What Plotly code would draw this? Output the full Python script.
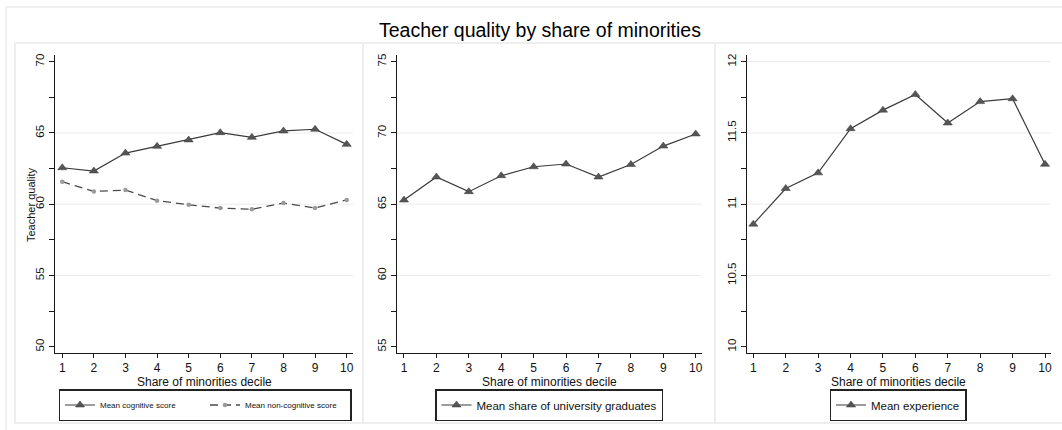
import plotly.graph_objects as go

# Share of minorities decile (x axis, shared by all panels)
deciles = [1, 2, 3, 4, 5, 6, 7, 8, 9, 10]

# Panel 1: teacher test scores
cognitive = [62.56, 62.33, 63.59, 64.06, 64.51, 65.02, 64.69, 65.14, 65.26, 64.20]
non_cognitive = [61.58, 60.90, 60.99, 60.25, 59.96, 59.73, 59.64, 60.08, 59.73, 60.30]

# Panel 2: share of university graduates
university_share = [65.29, 66.91, 65.88, 67.00, 67.63, 67.82, 66.91, 67.79, 69.08, 69.93]

# Panel 3: years of experience
experience = [10.86, 11.11, 11.22, 11.53, 11.66, 11.77, 11.57, 11.72, 11.74, 11.28]

# Tick values and gridline positions for each panel
y1_ticks = [50, 55, 60, 65, 70]
y2_ticks = [55, 60, 65, 70, 75]
y3_ticks = [10, 10.5, 11, 11.5, 12]
y3_ticklabels = ["10", "10.5", "11", "11.5", "12"]
y1_grid = [55, 60, 65]
y2_grid = [60, 65, 70]
y3_grid = [10.5, 11, 11.5, 12]

TITLE = "Teacher quality by share of minorities"
XTITLE = "Share of minorities decile"
YTITLE = "Teacher quality"

W, H = 1062, 430
FONT = "Liberation Sans, Arial, sans-serif"
AXIS_COLOR = "#1a1a1a"
LINE_COLOR = "#3a3a3a"
MARK_COLOR = "#555555"
GRID_COLOR = "#ececec"
BOX_COLOR = "#eeeeee"


def fx(p):
    return p / W


def fy(p):
    return 1 - p / H


# Plot areas in pixels: (left, right) and (top, bottom)
panels = [
    dict(x=(55, 353), y=(55, 353), xr=[0.77, 10.2], yr=[49.56, 70.47],
         ticks=y1_ticks, labels=[str(t) for t in y1_ticks], grid=y1_grid),
    dict(x=(396.7, 701.7), y=(55, 353), xr=[0.775, 10.185], yr=[54.56, 75.47],
         ticks=y2_ticks, labels=[str(t) for t in y2_ticks], grid=y2_grid),
    dict(x=(746.7, 1050.7), y=(55, 353), xr=[0.796, 10.176], yr=[9.956, 12.047],
         ticks=y3_ticks, labels=y3_ticklabels, grid=y3_grid),
]
minor_step = [2.5, 2.5, 0.25]

fig = go.Figure()

tri_marker = dict(symbol="triangle-up", size=8, color=MARK_COLOR,
                  line=dict(width=0.5, color=LINE_COLOR))

fig.add_trace(go.Scatter(
    x=deciles, y=cognitive, mode="lines+markers", name="Mean cognitive score",
    line=dict(color=LINE_COLOR, width=1.2), marker=tri_marker,
    xaxis="x", yaxis="y", legend="legend"))
fig.add_trace(go.Scatter(
    x=deciles, y=non_cognitive, mode="lines+markers", name="Mean non-cognitive score",
    line=dict(color="#4a4a4a", width=1.3, dash="8px,5px"),
    marker=dict(symbol="circle", size=4.5, color="#9a9a9a"),
    xaxis="x", yaxis="y", legend="legend"))
fig.add_trace(go.Scatter(
    x=deciles, y=university_share, mode="lines+markers",
    name="Mean share of university graduates",
    line=dict(color=LINE_COLOR, width=1.2), marker=tri_marker,
    xaxis="x2", yaxis="y2", legend="legend2"))
fig.add_trace(go.Scatter(
    x=deciles, y=experience, mode="lines+markers", name="Mean experience",
    line=dict(color=LINE_COLOR, width=1.2), marker=tri_marker,
    xaxis="x3", yaxis="y3", legend="legend3"))

layout = dict(
    width=W, height=H,
    margin=dict(l=0, r=0, t=0, b=0),
    paper_bgcolor="white", plot_bgcolor="white",
    font=dict(family=FONT, color="#111111"),
    showlegend=True,
)

shapes = []
annotations = []

for i, p in enumerate(panels):
    sfx = "" if i == 0 else str(i + 1)
    xa = dict(
        domain=[fx(p["x"][0]), fx(p["x"][1])], range=p["xr"],
        anchor="y" + sfx, tickvals=deciles, ticktext=[str(d) for d in deciles],
        ticks="outside", ticklen=4, tickcolor=AXIS_COLOR,
        showline=True, linecolor=AXIS_COLOR, linewidth=1,
        showgrid=False, zeroline=False,
        tickfont=dict(size=12, family=FONT, color="#111111"),
    )
    ya = dict(
        domain=[fy(p["y"][1]), fy(p["y"][0])], range=p["yr"],
        anchor="x" + sfx, tickvals=p["ticks"], ticktext=p["labels"],
        tickangle=-90, ticks="outside", ticklen=5, tickcolor=AXIS_COLOR,
        minor=dict(dtick=minor_step[i], tick0=p["ticks"][0], ticks="outside",
                   ticklen=5, tickcolor=AXIS_COLOR, showgrid=False),
        showline=True, linecolor=AXIS_COLOR, linewidth=1,
        showgrid=False, zeroline=False,
        tickfont=dict(size=11.5, family=FONT, color="#111111"),
    )
    layout["xaxis" + sfx] = xa
    layout["yaxis" + sfx] = ya

    # Horizontal gridlines at the inner major ticks
    for g in p["grid"]:
        shapes.append(dict(type="line", xref="x" + sfx + " domain", yref="y" + sfx,
                           x0=0, x1=1, y0=g, y1=g, layer="below",
                           line=dict(color=GRID_COLOR, width=1)))

    # X axis title
    annotations.append(dict(
        text=XTITLE, xref="paper", yref="paper",
        x=(fx(p["x"][0]) + fx(p["x"][1])) / 2, y=fy(381.5),
        xanchor="center", yanchor="middle", showarrow=False,
        font=dict(size=12, family=FONT, color="#111111")))

# Y axis title of the first panel
annotations.append(dict(
    text=YTITLE, xref="paper", yref="paper", x=fx(31), y=fy(205),
    xanchor="center", yanchor="middle", textangle=-90, showarrow=False,
    font=dict(size=11, family=FONT, color="#111111")))

# Overall title
annotations.append(dict(
    text=TITLE, xref="paper", yref="paper", x=fx(540), y=fy(30),
    xanchor="center", yanchor="middle", showarrow=False,
    font=dict(size=19.5, family=FONT, color="#000000")))

# Outer frame and the three sub-graph frames
shapes.append(dict(type="rect", xref="paper", yref="paper",
                   x0=fx(6), x1=fx(1070), y0=fy(7), y1=fy(440),
                   line=dict(color="#f0f0f0", width=2), layer="below"))
for (l, r) in [(15, 363), (363, 715), (715, 1070)]:
    shapes.append(dict(type="rect", xref="paper", yref="paper",
                       x0=fx(l), x1=fx(r), y0=fy(43), y1=fy(423),
                       line=dict(color=BOX_COLOR, width=2), layer="below"))

legend_common = dict(
    orientation="h", xanchor="center", yanchor="middle",
    bgcolor="white", bordercolor="#222222", borderwidth=1.5,
    xref="paper", yref="paper",
)
layout["legend"] = dict(legend_common, x=fx(205), y=fy(405),
                        font=dict(size=8, family=FONT, color="#111111"),
                        entrywidth=100, itemwidth=30)
layout["legend2"] = dict(legend_common, x=fx(549), y=fy(405),
                         font=dict(size=11.5, family=FONT, color="#111111"))
layout["legend3"] = dict(legend_common, x=fx(898), y=fy(405),
                         font=dict(size=11.5, family=FONT, color="#111111"))

layout["shapes"] = shapes
layout["annotations"] = annotations
fig.update_layout(**layout)

fig.write_html("out.html")
